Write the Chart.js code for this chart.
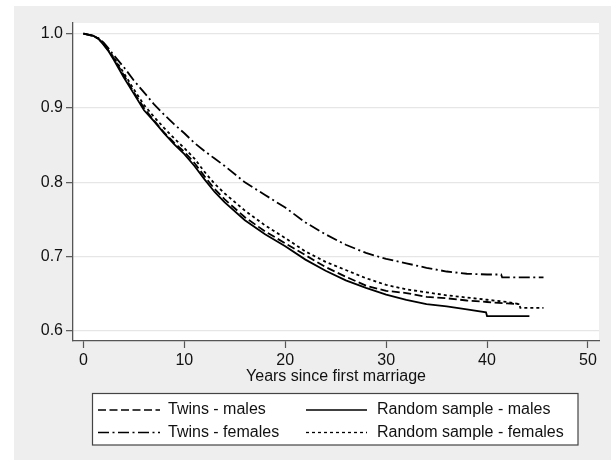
<!DOCTYPE html>
<html>
<head>
<meta charset="utf-8">
<script src="https://cdn.jsdelivr.net/npm/chart.js@4.4.1/dist/chart.umd.min.js"></script>
<style>
  body { margin: 0; background: #ffffff; }
  #wrap { width: 611px; height: 471px; }
</style>
</head>
<body>
<div id="wrap"><canvas id="survChart" width="611" height="471"></canvas></div>
<script>
  // survival curves (years since first marriage, proportion still married)
  const twinsMalesYears = [0, 1, 1.5, 2, 2.5, 3, 4, 5, 6, 7, 8, 9, 10, 11, 12, 13, 14, 16, 18, 20, 22, 24, 26, 28, 30, 32, 34, 36, 38, 40, 42, 43.2];
  const twinsMalesSurv  = [1.0, 0.997, 0.993, 0.986, 0.977, 0.967, 0.944, 0.921, 0.900, 0.883, 0.867, 0.853, 0.841, 0.826, 0.808, 0.791, 0.777, 0.753, 0.734, 0.718, 0.702, 0.686, 0.673, 0.661, 0.654, 0.651, 0.646, 0.644, 0.641, 0.639, 0.637, 0.636];

  const randomMalesYears = [0, 1, 1.5, 2, 2.5, 3, 4, 5, 6, 7, 8, 9, 10, 11, 12, 13, 14, 16, 18, 20, 22, 24, 26, 28, 30, 32, 34, 36, 38, 39.9, 40.0, 44.2];
  const randomMalesSurv  = [1.0, 0.997, 0.993, 0.985, 0.976, 0.965, 0.941, 0.919, 0.897, 0.882, 0.866, 0.851, 0.838, 0.822, 0.804, 0.787, 0.773, 0.749, 0.730, 0.714, 0.696, 0.681, 0.668, 0.658, 0.649, 0.642, 0.636, 0.633, 0.629, 0.625, 0.620, 0.620];

  const twinsFemalesYears = [0, 1, 1.5, 2, 2.5, 3, 4, 5, 6, 7, 8, 9, 10, 11, 12, 13, 14, 16, 18, 20, 22, 24, 26, 28, 30, 32, 34, 36, 38, 40, 41.4, 41.5, 45.6];
  const twinsFemalesSurv  = [1.0, 0.997, 0.994, 0.988, 0.980, 0.971, 0.955, 0.937, 0.921, 0.905, 0.891, 0.878, 0.866, 0.853, 0.842, 0.832, 0.822, 0.800, 0.783, 0.766, 0.746, 0.730, 0.716, 0.705, 0.697, 0.691, 0.685, 0.680, 0.677, 0.676, 0.676, 0.672, 0.672];

  const randomFemalesYears = [0, 1, 1.5, 2, 2.5, 3, 4, 5, 6, 7, 8, 9, 10, 11, 12, 13, 14, 16, 18, 20, 22, 24, 26, 28, 30, 32, 34, 36, 38, 40, 42, 43.2, 43.3, 45.6];
  const randomFemalesSurv  = [1.0, 0.997, 0.993, 0.986, 0.977, 0.968, 0.947, 0.925, 0.904, 0.888, 0.873, 0.859, 0.846, 0.832, 0.814, 0.798, 0.785, 0.762, 0.742, 0.725, 0.707, 0.693, 0.682, 0.671, 0.662, 0.656, 0.652, 0.648, 0.645, 0.642, 0.639, 0.636, 0.631, 0.631];

  const xTicks = [0, 10, 20, 30, 40, 50];
  const yTicks = [0.6, 0.7, 0.8, 0.9, 1.0];

  function pts(xs, ys) {
    return xs.map((x, i) => ({ x: x, y: ys[i] }));
  }

  const FONT = '"Liberation Sans", Arial, sans-serif';

  // order here is the legend order (left column, right column, row by row)
  const datasets = [
    { label: 'Twins - males', data: pts(twinsMalesYears, twinsMalesSurv), borderDash: [8, 3.5] },
    { label: 'Random sample - males', data: pts(randomMalesYears, randomMalesSurv), borderDash: [] },
    { label: 'Twins - females', data: pts(twinsFemalesYears, twinsFemalesSurv), borderDash: [11, 3.5, 2, 3.5] },
    { label: 'Random sample - females', data: pts(randomFemalesYears, randomFemalesSurv), borderDash: [3, 3] }
  ].map(d => Object.assign(d, {
    borderColor: '#000',
    borderWidth: 1.8,
    pointRadius: 0,
    fill: false,
    tension: 0
  }));

  // gray page background and white plot region
  const backdrop = {
    id: 'backdrop',
    beforeDraw(chart) {
      const { ctx, chartArea } = chart;
      ctx.save();
      ctx.fillStyle = '#eeeeee';
      ctx.fillRect(14, 6, 611 - 14, 460 - 6);
      ctx.fillStyle = '#ffffff';
      ctx.fillRect(chartArea.left, chartArea.top, chartArea.right - chartArea.left, chartArea.bottom - chartArea.top);
      ctx.restore();
    }
  };

  // Stata-style boxed legend, two columns
  const boxLegend = {
    id: 'boxLegend',
    afterDraw(chart) {
      const ctx = chart.ctx;
      const box = { x: 92.5, y: 393.5, w: 485.5, h: 51.5 };
      ctx.save();
      ctx.fillStyle = '#ffffff';
      ctx.fillRect(box.x, box.y, box.w, box.h);
      ctx.strokeStyle = '#444';
      ctx.lineWidth = 1.2;
      ctx.strokeRect(box.x, box.y, box.w, box.h);

      const cols = [{ x0: 98, x1: 160, tx: 168 }, { x0: 306, x1: 367, tx: 377 }];
      const rows = [410, 432.5];
      ctx.font = '16px ' + FONT;
      ctx.textBaseline = 'middle';
      chart.data.datasets.forEach((ds, i) => {
        const c = cols[i % 2];
        const y = rows[Math.floor(i / 2)];
        ctx.strokeStyle = '#000';
        ctx.lineWidth = 1.3;
        ctx.setLineDash(ds.borderDash);
        ctx.beginPath();
        ctx.moveTo(c.x0, y);
        ctx.lineTo(c.x1, y);
        ctx.stroke();
        ctx.setLineDash([]);
        ctx.fillStyle = '#111';
        ctx.fillText(ds.label, c.tx, y);
      });
      ctx.restore();
    }
  };

  const ctx1 = document.getElementById('survChart').getContext('2d');
  const survChart = new Chart(ctx1, {
    type: 'line',
    data: { datasets: datasets },
    plugins: [backdrop, boxLegend],
    options: {
      responsive: false,
      animation: false,
      layout: { padding: { left: 0, top: 23, right: 12, bottom: 80 } },
      plugins: {
        legend: { display: false },
        tooltip: { enabled: false }
      },
      scales: {
        x: {
          type: 'linear',
          min: -1.04,
          max: 51.1,
          afterBuildTicks: s => { s.ticks = xTicks.map(v => ({ value: v })); },
          afterFit: s => { s.height = 50; },
          grid: { drawOnChartArea: false, tickColor: '#555', tickLength: 7, tickWidth: 1.2 },
          border: { color: '#555', width: 1.3 },
          ticks: { color: '#111', font: { family: FONT, size: 16 }, padding: 3, maxRotation: 0 },
          title: {
            display: true,
            text: 'Years since first marriage',
            color: '#111',
            font: { family: FONT, size: 16 },
            padding: { top: 0, bottom: 5 }
          }
        },
        y: {
          min: 0.5865,
          max: 1.0144,
          afterBuildTicks: s => { s.ticks = yTicks.map(v => ({ value: v })); },
          afterFit: s => { s.width = 73; },
          grid: { color: '#e6e6e6', lineWidth: 1.3, tickColor: '#555', tickLength: 7, tickWidth: 1.2 },
          border: { color: '#555', width: 1.3 },
          ticks: {
            color: '#111',
            font: { family: FONT, size: 16 },
            padding: 3,
            callback: v => v.toFixed(1)
          }
        }
      }
    }
  });
</script>
</body>
</html>
